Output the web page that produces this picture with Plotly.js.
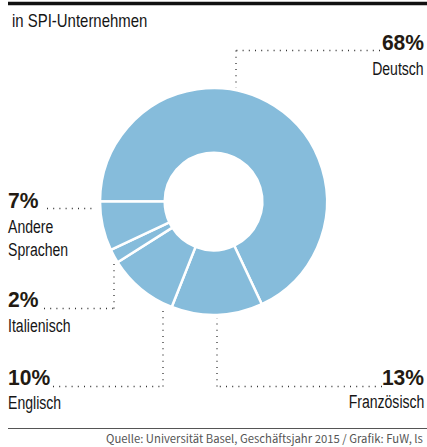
<!DOCTYPE html>
<html>
<head>
<meta charset="utf-8">
<script src="https://cdn.plot.ly/plotly-3.0.1.min.js"></script>
<style>
html,body{margin:0;padding:0;background:#fff;}
#chart{width:427px;height:447px;}
</style>
</head>
<body>
<div id="chart"></div>
<script>
// ---- data ----
const categories = ['Deutsch', 'Französisch', 'Englisch', 'Italienisch', 'Andere Sprachen'];
const shares = [68, 13, 10, 2, 7];
const labelLines = [['Deutsch'], ['Französisch'], ['Englisch'], ['Italienisch'], ['Andere', 'Sprachen']];
const titleText = 'in SPI-Unternehmen';
const sourceText = 'Quelle: Universität Basel, Geschäftsjahr 2015 / Grafik: FuW, ls';

// ---- layout helpers (pixel -> paper) ----
const W = 427, H = 447;
const px = x => x / W;
const py = y => 1 - y / H;

const LIB = '"Liberation Sans", Arial, sans-serif';
const SRC = '"Noto Sans CJK SC", "Noto Sans", sans-serif';
const pieColor = '#86bcdb';
const txtColor = '#231a12';

// label placements per category: x, baseline of %, anchor, label baselines
const placements = [
  {x: 425, pct: 51, anchor: 'right', lab: [75]},
  {x: 425, pct: 386, anchor: 'right', lab: [408]},
  {x: 7, pct: 386, anchor: 'left', lab: [409]},
  {x: 7, pct: 308, anchor: 'left', lab: [332]},
  {x: 7, pct: 209, anchor: 'left', lab: [233, 256]}
];
// leader polylines
const leaders = [
  [[380, 50.5], [236, 50.5], [236, 88]],
  [[382, 386.5], [217, 386.5], [217, 318]],
  [[53, 386.5], [163, 386.5], [163, 310]],
  [[44, 308.5], [114, 308.5], [114, 259]],
  [[47, 208.5], [96, 208.5]]
];

const annotations = [];
const annMeta = [];
const shapes = [];

function addText(text, x, baseline, anchor, size, family, k, color, bold, scale) {
  annotations.push({
    text: bold ? '<b>' + text + '</b>' : text,
    xref: 'paper', yref: 'paper',
    x: px(x), y: py(baseline - size * k),
    xanchor: anchor, yanchor: 'middle',
    showarrow: false, borderpad: 0,
    font: {size: size, family: family, color: color}
  });
  annMeta.push({anchor: anchor, scale: scale});
}

categories.forEach((c, i) => {
  const p = placements[i];
  addText(shares[i] + '%', p.x, p.pct, p.anchor, 21.5, LIB, 0.35, txtColor, true, 0.98);
  labelLines[i].forEach((ln, j) => addText(ln, p.x, p.lab[j], p.anchor, 19, LIB, 0.35, '#151515', false, 0.74));
  const pts = leaders[i];
  for (let k = 0; k < pts.length - 1; k++) {
    shapes.push({
      type: 'line', xref: 'paper', yref: 'paper',
      x0: px(pts[k][0]), y0: py(pts[k][1]), x1: px(pts[k+1][0]), y1: py(pts[k+1][1]),
      line: {color: '#333', width: 1.3, dash: '1px,5.2px'}
    });
  }
});

// title and source
addText(titleText, 11, 27, 'left', 18, LIB, 0.35, '#151515', false, 0.83);
addText(sourceText, 424, 443, 'right', 11.3, SRC, 0.43, '#555', false, 1);

// rules
shapes.push({type: 'line', xref: 'paper', yref: 'paper', x0: px(8), x1: px(427), y0: py(3.5), y1: py(3.5), line: {color: '#111', width: 3.5}});
shapes.push({type: 'line', xref: 'paper', yref: 'paper', x0: px(8), x1: px(427), y0: py(428.5), y1: py(428.5), line: {color: '#555', width: 1}});

const trace = {
  type: 'pie',
  labels: categories,
  values: shares,
  sort: false,
  direction: 'clockwise',
  rotation: 270,
  hole: 0.43,
  textinfo: 'none',
  hoverinfo: 'none',
  marker: {colors: categories.map(() => pieColor), line: {color: '#fff', width: 2.5}},
  domain: {x: [px(100), px(327)], y: [py(315), py(88)]},
  showlegend: false
};

const layout = {
  width: W, height: H,
  margin: {l: 0, r: 0, t: 0, b: 0},
  paper_bgcolor: '#fff',
  plot_bgcolor: '#fff',
  showlegend: false,
  annotations: annotations,
  shapes: shapes
};

Plotly.newPlot('chart', [trace], layout, {displayModeBar: false, staticPlot: true}).then(gd => {
  // condensed lettering: squeeze text horizontally around its anchored edge
  gd.querySelectorAll('g.annotation').forEach(g => {
    const idx = +g.getAttribute('data-index');
    const m = annMeta[idx];
    if (!m || m.scale === 1) return;
    const t = g.querySelector('text.annotation-text');
    if (!t) return;
    const bb = t.getBBox();
    const ox = m.anchor === 'right' ? bb.x + bb.width : (m.anchor === 'left' ? bb.x : bb.x + bb.width / 2);
    const prev = t.getAttribute('transform') || '';
    t.setAttribute('transform', (prev + ' translate(' + ox + ',0) scale(' + m.scale + ',1) translate(' + (-ox) + ',0)').trim());
  });
});
</script>
</body>
</html>
